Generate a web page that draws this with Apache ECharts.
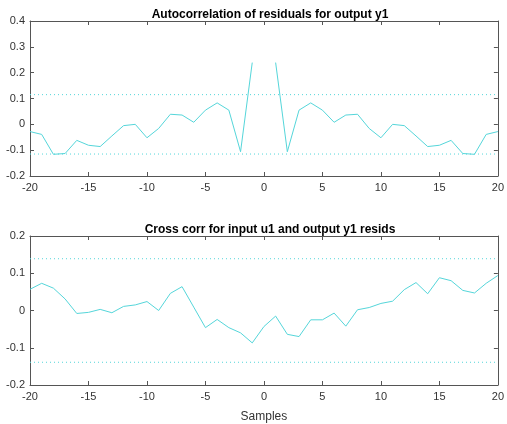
<!DOCTYPE html>
<html>
<head>
<meta charset="utf-8">
<script src="https://cdn.jsdelivr.net/npm/echarts@6/dist/echarts.min.js"></script>
<style>
html, body { margin: 0; padding: 0; background: #fff; }
#main { width: 507px; height: 424px; }
</style>
</head>
<body>
<div id="main"></div>
<script>
// lags (samples)
var lags = [-20, -19, -18, -17, -16, -15, -14, -13, -12, -11, -10, -9, -8, -7, -6, -5, -4, -3, -2, -1,
	0, 1, 2, 3, 4, 5, 6, 7, 8, 9, 10, 11, 12, 13, 14, 15, 16, 17, 18, 19, 20];

// autocorrelation of residuals (lag 0 not drawn)
var autoCorr = [-0.028, -0.039, -0.116, -0.113, -0.062, -0.081, -0.086, -0.045, -0.005, 0.000,
	-0.052, -0.016, 0.039, 0.036, 0.008, 0.055, 0.083, 0.055, -0.106, 0.239,
	null,
	0.239, -0.106, 0.055, 0.083, 0.055, 0.008, 0.036, 0.039, -0.016, -0.052,
	0.000, -0.005, -0.045, -0.086, -0.081, -0.062, -0.113, -0.116, -0.039, -0.028];

// cross correlation input u1 / output y1 residuals
var crossCorr = [0.057, 0.073, 0.060, 0.031, -0.008, -0.005, 0.003, -0.006, 0.011, 0.015,
	0.024, 0.000, 0.046, 0.064, 0.009, -0.046, -0.024, -0.046, -0.060, -0.087,
	-0.043,
	-0.015, -0.064, -0.070, -0.025, -0.025, -0.007, -0.042, 0.002, 0.008, 0.019,
	0.025, 0.056, 0.075, 0.045, 0.088, 0.080, 0.054, 0.047, 0.073, 0.094];

// confidence bounds
var autoConf = 0.115;
var crossConf = 0.139;

var xTicks = [-20, -15, -10, -5, 0, 5, 10, 15, 20];
var autoYTicks = [-0.2, -0.1, 0, 0.1, 0.2, 0.3, 0.4];
var crossYTicks = [-0.2, -0.1, 0, 0.1, 0.2];

var lineColor = '#55d6da';
var axisColor = '#555';
var font = 'Liberation Sans, Helvetica, Arial, sans-serif';

function pairs(xs, ys) {
	var out = [];
	for (var i = 0; i < xs.length; i++) {
		out.push([xs[i], ys[i]]);
	}
	return out;
}

function boundLine(v, xi, yi) {
	return {
		type : 'line',
		xAxisIndex : xi,
		yAxisIndex : yi,
		data : [ [xTicks[0], v], [xTicks[xTicks.length - 1], v] ],
		symbol : 'none',
		silent : true,
		lineStyle : { color : lineColor, width : 1, type : [1, 3] }
	};
}

function xAxes(gi) {
	var base = {
		type : 'value',
		gridIndex : gi,
		min : xTicks[0],
		max : xTicks[xTicks.length - 1],
		interval : 5,
		splitLine : { show : false },
		axisLine : { show : true, onZero : false, lineStyle : { color : axisColor, width : 1 } },
		axisTick : { show : true, inside : true, length : 4, lineStyle : { color : axisColor } }
	};
	var bottom = echarts.util.merge({
		position : 'bottom',
		axisLabel : { color : '#333', fontSize : 11, fontFamily : font, margin : 6 }
	}, base, true);
	var top = echarts.util.merge({
		position : 'top',
		axisLabel : { show : false }
	}, base, true);
	if (gi == 1) {
		bottom.name = 'Samples';
		bottom.nameLocation = 'middle';
		bottom.nameGap = 26;
		bottom.nameTextStyle = { color : '#333', fontSize : 12, fontFamily : font };
	}
	return [bottom, top];
}

function yAxes(gi, ticks) {
	var base = {
		type : 'value',
		gridIndex : gi,
		min : ticks[0],
		max : ticks[ticks.length - 1],
		interval : 0.1,
		splitLine : { show : false },
		axisLine : { show : true, onZero : false, lineStyle : { color : axisColor, width : 1 } },
		axisTick : { show : true, inside : true, length : 4, lineStyle : { color : axisColor } }
	};
	var left = echarts.util.merge({
		position : 'left',
		axisLabel : { color : '#333', fontSize : 11, fontFamily : font, margin : 5 }
	}, base, true);
	var right = echarts.util.merge({
		position : 'right',
		axisLabel : { show : false }
	}, base, true);
	return [left, right];
}

var chart = echarts.init(document.getElementById('main'));
var xa = xAxes(0).concat(xAxes(1));
var ya = yAxes(0, autoYTicks).concat(yAxes(1, crossYTicks));

var option = {
	animation : false,
	backgroundColor : '#fff',
	title : [ {
		text : 'Autocorrelation of residuals for output y1',
		left : 265,
		top : 4,
		textAlign : 'center',
		textStyle : { fontSize : 12, fontWeight : 'bold', color : '#000', fontFamily : font }
	}, {
		text : 'Cross corr for input u1 and output y1 resids',
		left : 265,
		top : 219,
		textAlign : 'center',
		textStyle : { fontSize : 12, fontWeight : 'bold', color : '#000', fontFamily : font }
	} ],
	grid : [
		{ left : 30, top : 21, width : 470, height : 155 },
		{ left : 30, top : 236, width : 470, height : 156 }
	],
	xAxis : xa,
	yAxis : ya,
	series : [ {
		type : 'line',
		xAxisIndex : 0,
		yAxisIndex : 0,
		data : pairs(lags, autoCorr),
		symbol : 'none',
		connectNulls : false,
		lineStyle : { color : lineColor, width : 1 }
	},
		boundLine(autoConf, 0, 0),
		boundLine(-autoConf, 0, 0),
	{
		type : 'line',
		xAxisIndex : 2,
		yAxisIndex : 2,
		data : pairs(lags, crossCorr),
		symbol : 'none',
		lineStyle : { color : lineColor, width : 1 }
	},
		boundLine(crossConf, 2, 2),
		boundLine(-crossConf, 2, 2)
	]
};
chart.setOption(option);
</script>
</body>
</html>
